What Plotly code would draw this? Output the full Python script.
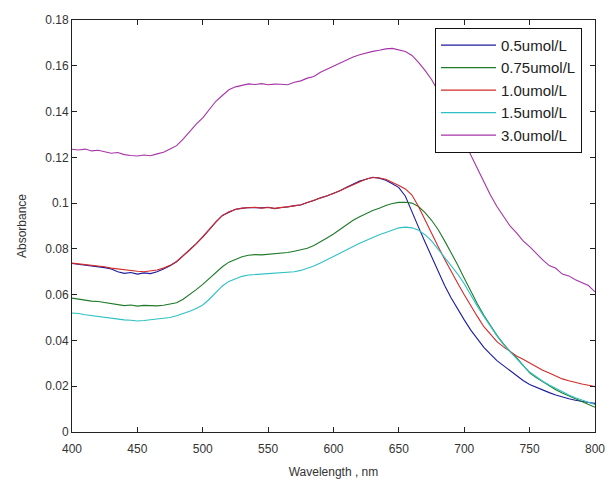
import plotly.graph_objects as go

# Wavelength grid (nm), 5 nm steps
wavelength = list(range(400, 805, 5))

abs_0_5 = [0.0736, 0.0733, 0.0730, 0.0727, 0.0722, 0.0718, 0.0712, 0.0700, 0.0693, 0.0697,
           0.0690, 0.0695, 0.0692, 0.0700, 0.0712, 0.0726, 0.0744, 0.0769, 0.0794, 0.0823,
           0.0851, 0.0886, 0.0917, 0.0946, 0.0961, 0.0973, 0.0977, 0.0981, 0.0980, 0.0979,
           0.0982, 0.0976, 0.0981, 0.0983, 0.0989, 0.0992, 0.1003, 0.1011, 0.1023, 0.1031,
           0.1043, 0.1054, 0.1069, 0.1081, 0.1096, 0.1104, 0.1113, 0.1109, 0.1100, 0.1085,
           0.1068, 0.1030, 0.0960, 0.0895, 0.0830, 0.0765, 0.0700, 0.0640, 0.0585, 0.0535,
           0.0490, 0.0445, 0.0405, 0.0370, 0.0340, 0.0312, 0.0290, 0.0268, 0.0245, 0.0225,
           0.0208, 0.0195, 0.0183, 0.0172, 0.0162, 0.0152, 0.0145, 0.0139, 0.0133, 0.0129,
           0.0125]

abs_0_75 = [0.0585, 0.0580, 0.0578, 0.0572, 0.0570, 0.0566, 0.0562, 0.0558, 0.0552, 0.0555,
            0.0550, 0.0553, 0.0552, 0.0551, 0.0554, 0.0558, 0.0565, 0.0580, 0.0600, 0.0622,
            0.0645, 0.0670, 0.0695, 0.0722, 0.0742, 0.0755, 0.0766, 0.0772, 0.0775, 0.0774,
            0.0776, 0.0778, 0.0780, 0.0784, 0.0790, 0.0795, 0.0803, 0.0815, 0.0830, 0.0848,
            0.0865, 0.0885, 0.0905, 0.0925, 0.0940, 0.0955, 0.0968, 0.0978, 0.0990, 0.0998,
            0.1003, 0.1004, 0.1000, 0.0985, 0.0958, 0.0925, 0.0885, 0.0835, 0.0785, 0.0730,
            0.0672, 0.0615, 0.0560, 0.0510, 0.0465, 0.0422, 0.0385, 0.0352, 0.0325, 0.0290,
            0.0258, 0.0238, 0.0220, 0.0200, 0.0185, 0.0170, 0.0158, 0.0145, 0.0132, 0.0120,
            0.0108]

abs_1_0 = [0.0738, 0.0735, 0.0732, 0.0728, 0.0725, 0.0722, 0.0716, 0.0712, 0.0708, 0.0704,
           0.0702, 0.0700, 0.0704, 0.0708, 0.0716, 0.0728, 0.0745, 0.0768, 0.0795, 0.0822,
           0.0852, 0.0885, 0.0918, 0.0945, 0.0962, 0.0972, 0.0978, 0.0980, 0.0982, 0.0978,
           0.0981, 0.0977, 0.0980, 0.0984, 0.0988, 0.0993, 0.1002, 0.1012, 0.1022, 0.1032,
           0.1042, 0.1055, 0.1068, 0.1082, 0.1095, 0.1105, 0.1112, 0.1110, 0.1104, 0.1092,
           0.1077, 0.1062, 0.1035, 0.0985, 0.0925, 0.0870, 0.0810, 0.0755, 0.0700, 0.0650,
           0.0600, 0.0550, 0.0505, 0.0460, 0.0425, 0.0395, 0.0372, 0.0350, 0.0332, 0.0318,
           0.0302, 0.0285, 0.0270, 0.0258, 0.0244, 0.0232, 0.0224, 0.0216, 0.0210, 0.0204,
           0.0198]

abs_1_5 = [0.0520, 0.0518, 0.0512, 0.0508, 0.0505, 0.0502, 0.0498, 0.0494, 0.0490, 0.0488,
           0.0485, 0.0487, 0.0490, 0.0492, 0.0495, 0.0500, 0.0508, 0.0517, 0.0528, 0.0540,
           0.0555, 0.0580, 0.0610, 0.0638, 0.0658, 0.0670, 0.0680, 0.0686, 0.0688, 0.0690,
           0.0691, 0.0692, 0.0694, 0.0697, 0.0700, 0.0706, 0.0714, 0.0725, 0.0738, 0.0752,
           0.0765, 0.0780, 0.0795, 0.0810, 0.0825, 0.0838, 0.0850, 0.0862, 0.0872, 0.0882,
           0.0892, 0.0895, 0.0892, 0.0882, 0.0862, 0.0835, 0.0800, 0.0765, 0.0725, 0.0690,
           0.0648, 0.0598, 0.0550, 0.0505, 0.0462, 0.0420, 0.0382, 0.0350, 0.0322, 0.0290,
           0.0262, 0.0240, 0.0222, 0.0205, 0.0190, 0.0175, 0.0162, 0.0150, 0.0140, 0.0130,
           0.0120]

abs_3_0 = [0.1235, 0.1232, 0.1236, 0.1228, 0.1231, 0.1224, 0.1218, 0.1221, 0.1212, 0.1208,
           0.1206, 0.1210, 0.1207, 0.1215, 0.1222, 0.1236, 0.1251, 0.1280, 0.1312, 0.1345,
           0.1372, 0.1410, 0.1445, 0.1470, 0.1495, 0.1508, 0.1516, 0.1521, 0.1518, 0.1522,
           0.1517, 0.1520, 0.1519, 0.1517, 0.1528, 0.1534, 0.1546, 0.1553, 0.1572, 0.1585,
           0.1600, 0.1612, 0.1625, 0.1638, 0.1648, 0.1656, 0.1663, 0.1668, 0.1674, 0.1676,
           0.1670, 0.1662, 0.1645, 0.1615, 0.1580, 0.1540, 0.1490, 0.1440, 0.1385, 0.1330,
           0.1275, 0.1210, 0.1150, 0.1090, 0.1035, 0.0985, 0.0940, 0.0900, 0.0870, 0.0835,
           0.0810, 0.0780, 0.0752, 0.0727, 0.0715, 0.0690, 0.0682, 0.0665, 0.0652, 0.0640,
           0.0612]

series_names = ["0.5umol/L", "0.75umol/L", "1.0umol/L", "1.5umol/L", "3.0umol/L"]
series_values = [abs_0_5, abs_0_75, abs_1_0, abs_1_5, abs_3_0]
series_colors = ["#1c1c9c", "#1f7a2a", "#d42a2a", "#2ec0c4", "#a534a8"]

x_ticks = [400, 450, 500, 550, 600, 650, 700, 750, 800]
y_ticks = [0, 0.02, 0.04, 0.06, 0.08, 0.1, 0.12, 0.14, 0.16, 0.18]
y_tick_labels = ["0", "0.02", "0.04", "0.06", "0.08", "0.1", "0.12", "0.14", "0.16", "0.18"]

FONT = "Liberation Sans, Arial"

fig = go.Figure()
for i, (name, vals, col) in enumerate(zip(series_names, series_values, series_colors)):
    fig.add_trace(go.Scatter(
        x=wavelength, y=vals, mode="lines", name=name,
        line=dict(color=col, width=1.1), legendgroup=str(i),
    ))

axis_common = dict(
    showline=True, linecolor="#222", linewidth=1, mirror="ticks",
    ticks="inside", ticklen=5, tickcolor="#222", showgrid=False, zeroline=False,
    automargin=False,
    tickfont=dict(family=FONT, size=12, color="#333"),
)

fig.update_layout(
    width=609, height=481,
    margin=dict(l=72, r=14, t=20, b=49),
    paper_bgcolor="white", plot_bgcolor="white",
    showlegend=True,
    legend=dict(
        x=0.694, y=0.981, xanchor="left", yanchor="top",
        bgcolor="white", bordercolor="#111", borderwidth=1,
        font=dict(family=FONT, size=15, color="#222"),
        tracegroupgap=0, itemwidth=55,
    ),
    xaxis=dict(range=[400, 800], tickvals=x_ticks, ticklabelstandoff=6,
               title=dict(text="Wavelength , nm", standoff=12,
                          font=dict(family=FONT, size=12, color="#333")),
               **axis_common),
    yaxis=dict(range=[0, 0.18], tickvals=y_ticks, ticktext=y_tick_labels,
               title=dict(text="Absorbance", standoff=16,
                          font=dict(family=FONT, size=12, color="#333")),
               **axis_common),
)

fig.write_html("out.html")
